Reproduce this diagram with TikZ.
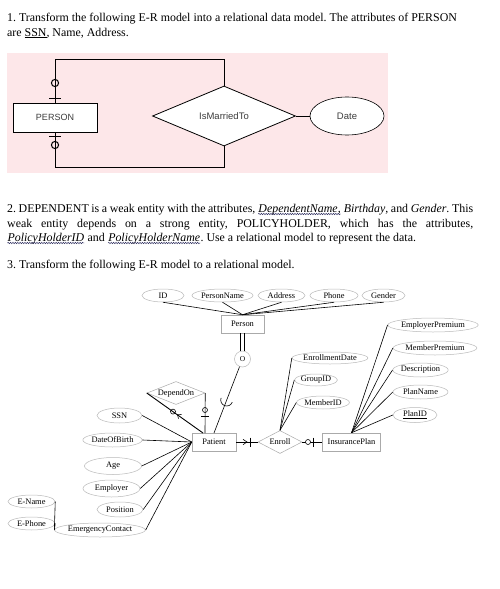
\documentclass[tikz,border=0pt]{standalone}
\usepackage{fontspec}
\setmainfont{Liberation Serif}
\newfontfamily\uisans{Liberation Sans}
\usetikzlibrary{shapes.geometric,decorations.pathmorphing}
\definecolor{pinkbg}{RGB}{253,231,233}
\definecolor{lgray}{RGB}{170,170,170}
\definecolor{egray}{RGB}{185,185,185}
\definecolor{sgray}{RGB}{60,60,60}
\definecolor{wavec}{RGB}{40,40,90}
\frenchspacing
\newcommand{\wavyul}[1]{\tikz[baseline=(wv.base)]{\node[inner sep=0pt, anchor=base] (wv) {#1};\draw[wavec, line width=0.45pt, decorate, decoration={snake, amplitude=0.7pt, segment length=2.4pt}] ([yshift=-2pt]wv.base west) -- ([yshift=-2pt]wv.base east);}}
\begin{document}
\begin{tikzpicture}[x=1pt,y=1pt,
  body/.style={anchor=base west, inner sep=0, font=\fontsize{11.9}{13}\selectfont},
  ent1/.style={draw=black, line width=0.8pt, fill=white, minimum width=84pt, minimum height=29pt, inner sep=0, font=\uisans\fontsize{9}{10}\selectfont, text=sgray},
  rel1/.style={diamond, draw=black, line width=0.8pt, fill=white, minimum width=143pt, minimum height=60pt, inner sep=0, aspect=2.4, font=\uisans\fontsize{9.5}{10}\selectfont, text=sgray},
  att1/.style={ellipse, draw=black, line width=0.6pt, fill=white, inner sep=0, font=\uisans\fontsize{9.5}{10}\selectfont, text=sgray},
  thk/.style={line width=1pt},
  ent/.style={draw=lgray, line width=0.5pt, fill=white, minimum height=18pt, inner sep=0, font=\fontsize{8.4}{9}\selectfont},
  rel/.style={diamond, draw=lgray, line width=0.5pt, fill=white, inner sep=0, aspect=2.5, font=\fontsize{8.4}{9}\selectfont},
  attr/.style={ellipse, draw=egray, line width=0.5pt, fill=white, inner sep=0, font=\fontsize{8.4}{9}\selectfont},
  ln/.style={line width=0.6pt},
]
\useasboundingbox[fill=white] (0,0) rectangle (500,-589);

% ---------- Text part 1 ----------
\node[body] (t1a) at (7,-21) {1. Transform the following E-R model into a relational data model. The attributes of PERSON};
\node[body] (t1b) at (7,-36) {are \underline{SSN}, Name, Address.};

% ---------- Diagram 1 ----------
\fill[pinkbg] (7,-53) rectangle (388,-173);
\coordinate (tl) at (55,-59);
\coordinate (tr) at (224,-59);
\coordinate (bl) at (55,-167);
\coordinate (br) at (224,-167);
\node[ent1] (P1) at (55,-117.5) {PERSON};
\node[rel1] (IMT) at (224,-116) {IsMarriedTo};
\node[att1, minimum width=74pt, minimum height=38pt] (Date) at (347,-116) {Date};
\draw[thk] (P1.north) -- (tl) -- (tr) -- (IMT.north);
\draw[thk] (P1.south) -- (bl) -- (br) -- (IMT.south);
\draw[thk] (IMT.east) -- (Date.west);
\draw[thk] (55,-83) circle[radius=3.6pt];
\draw[thk] (49,-98) -- (61,-98);
\draw[thk] (49,-136) -- (61,-136);
\draw[thk] (55,-145) circle[radius=3.6pt];

% ---------- Text part 2 ----------
\node[body] (t2a) at (7,-212) {\makebox[466pt][s]{2. DEPENDENT is a weak entity with the attributes, \wavyul{\textit{DependentName,}} \textit{Birthday}, and \textit{Gender}. This}};
\node[body] (t2b) at (7,-227) {\makebox[466pt][s]{weak entity depends on a strong entity, POLICYHOLDER, which has the attributes,}};
\node[body] (t2c) at (7,-241) {\wavyul{\textit{PolicyHolderID}} and \wavyul{\textit{PolicyHolderName}}. Use a relational model to represent the data.};
\node[body] (t3) at (7,-268) {3. Transform the following E-R model to a relational model.};

% ---------- Diagram 3 ----------
\node[ent, minimum width=43pt] (Person) at (242.5,-324) {Person};
\node[attr, minimum width=42pt, minimum height=13pt] (ID) at (163,-295.5) {ID};
\node[attr, minimum width=61pt, minimum height=13pt] (PersonName) at (222.5,-295.5) {PersonName};
\node[attr, minimum width=47pt, minimum height=13pt] (Address) at (281.5,-295.5) {Address};
\node[attr, minimum width=48pt, minimum height=13pt] (Phone) at (334,-295.5) {Phone};
\node[attr, minimum width=43pt, minimum height=13pt] (Gender) at (383.5,-295.5) {Gender};
\foreach \a in {ID,PersonName,Address,Phone,Gender}
  \draw[ln] (\a.south) -- (Person.north);

\node[circle, draw=egray, line width=0.5pt, fill=white, minimum size=16pt, inner sep=0, font=\fontsize{7.5}{8}\selectfont] (O) at (242.5,-359) {O};
\draw[ln] ([xshift=-2.2pt]Person.south) -- ++(0,-18.2);
\draw[ln] ([xshift=2.2pt]Person.south) -- ++(0,-18.2);

\node[ent, minimum width=44pt] (Patient) at (214,-442) {Patient};
\node[rel, minimum width=44pt, minimum height=23pt] (Enroll) at (280,-442) {Enroll};
\node[ent, minimum width=58pt] (IP) at (351.5,-442) {InsurancePlan};
\node[rel, minimum width=58pt, minimum height=23pt] (DependOn) at (176,-393) {DependOn};

% O -> Patient with subset symbol
\coordinate (pt1) at (214,-433);
\draw[ln] (O) -- (pt1);
\draw[ln] ([shift={(158.9:6pt)}]226.7,-400) arc[start angle=158.9, end angle=338.9, radius=6pt];

% DependOn connectors
\coordinate (dl) at (203,-433);
\coordinate (dr) at (205,-433);
\draw[line width=0.9pt] (DependOn.west) -- (dl);
\draw[ln] (173,-411.6) circle[radius=2.5pt];
\coordinate (chv) at (177.5,-414.8);
\draw[ln] ([shift={(4.5:4pt)}]chv) -- (chv) -- ([shift={(-75.5:4pt)}]chv);
\draw[ln] (DependOn.east) -- (dr);
\draw[ln] (205,-410) circle[radius=2.5pt];
\draw[ln] (201,-416) -- (209,-416);

% Patient -> Enroll
\draw[ln] (Patient.east) -- (Enroll.west);
\draw[ln] (243,-439.3) -- (247,-442) -- (243,-444.7);
\draw[ln] (250,-437.5) -- (250,-446.5);
% Enroll -> InsurancePlan
\draw[ln] (Enroll.east) -- (IP.west);
\draw[ln, fill=white] (308,-442) circle[radius=2.5pt];
\draw[ln] (313,-437.5) -- (313,-446.5);

% Enroll attributes
\node[attr, minimum width=69pt, minimum height=12pt] (EnrollmentDate) at (330,-358) {EnrollmentDate};
\node[attr, minimum width=41pt, minimum height=12pt] (GroupID) at (316,-380) {GroupID};
\node[attr, minimum width=49pt, minimum height=13pt] (MemberID) at (323,-402.5) {MemberID};
\foreach \a in {EnrollmentDate,GroupID,MemberID}
  \draw[ln] (\a.west) -- (Enroll.north);

% InsurancePlan attributes
\node[attr, minimum width=80pt, minimum height=14pt] (EmployerPremium) at (433,-325) {EmployerPremium};
\node[attr, minimum width=74pt, minimum height=14pt] (MemberPremium) at (435,-348) {MemberPremium};
\node[attr, minimum width=55pt, minimum height=14pt] (Description) at (420.5,-370) {Description};
\node[attr, minimum width=55pt, minimum height=14pt] (PlanName) at (420.5,-392) {PlanName};
\node[attr, minimum width=44pt, minimum height=15pt] (PlanID) at (415,-415) {\underline{PlanID}};
\foreach \a in {EmployerPremium,MemberPremium,Description,PlanName,PlanID}
  \draw[ln] (\a.west) -- (IP.north);

% Patient attributes
\node[attr, minimum width=45pt, minimum height=15pt] (SSN) at (119.5,-415.5) {SSN};
\node[attr, minimum width=59pt, minimum height=14pt] (DateOfBirth) at (112.5,-440) {DateOfBirth};
\node[attr, minimum width=57pt, minimum height=17pt] (Age) at (113,-466) {Age};
\node[attr, minimum width=57pt, minimum height=17pt] (Employer) at (111.5,-488.5) {Employer};
\node[attr, minimum width=46pt, minimum height=15pt] (Position) at (120,-509.5) {Position};
\node[attr, minimum width=84pt, minimum height=14pt] (EC) at (100,-530) {EmergencyContact};
\foreach \a in {SSN,DateOfBirth,Age,Employer,Position,EC}
  \draw[ln] (\a.east) -- (Patient.west);
\node[attr, minimum width=47pt, minimum height=13pt] (EName) at (31.5,-501.5) {E-Name};
\node[attr, minimum width=47pt, minimum height=13pt] (EPhone) at (31.5,-523.5) {E-Phone};
\draw[ln] (EName.east) -- (EC.west);
\draw[ln] (EPhone.east) -- (EC.west);
\end{tikzpicture}
\end{document}
